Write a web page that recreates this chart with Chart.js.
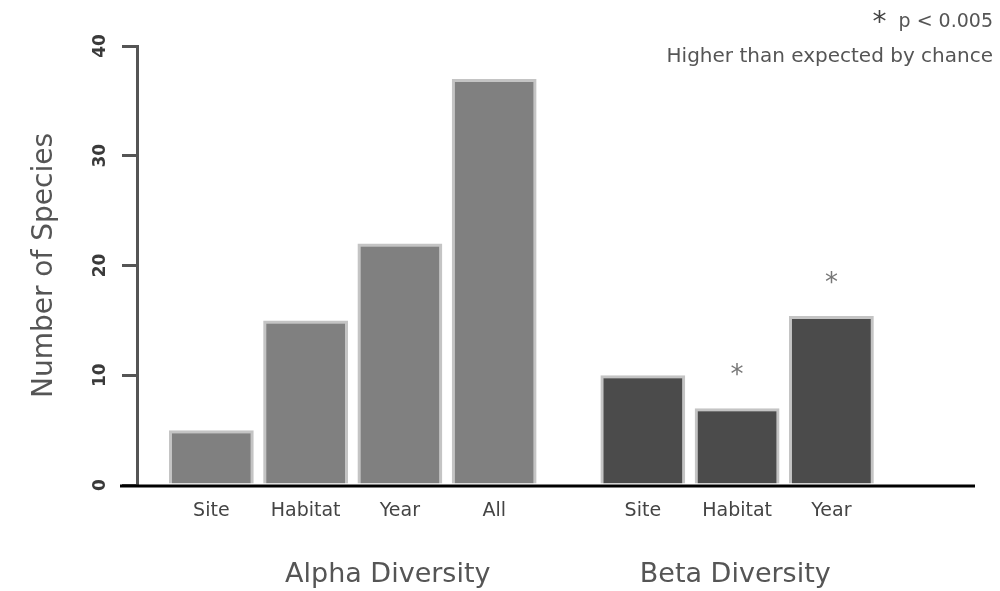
<!DOCTYPE html>
<html>
<head>
  <title>Number of Species</title>
  <meta charset="utf-8">
  <style type="text/css">
    html, body {
      margin: 0;
      padding: 0;
      background: #fff;
    }
    #wrap {
      position: relative;
      width: 1000px;
      height: 591px;
    }
  </style>
  <script src="https://cdn.jsdelivr.net/npm/chart.js@4.4.1/dist/chart.umd.min.js"></script>
</head>
<body>
  <div id="wrap"><canvas id="graph"></canvas></div>

  <script>
    // data
    var GROUPS = ['Alpha Diversity', 'Beta Diversity'];
    var MEASURES = ['Site', 'Habitat', 'Year', 'All'];
    var ALPHA = [5, 15, 22, 37];
    var BETA = [10, 7, 15.4, null];
    var BETA_SIGNIFICANT = [false, true, true, false];
    var Y_TICKS = [0, 10, 20, 30, 40];
    var NOTE_MARK = '*';
    var NOTE_P = 'p < 0.005';
    var NOTE_TEXT = 'Higher than expected by chance';

    var FILL = ['#808080', '#4b4b4b'];
    var FONT = '"DejaVu Sans", Verdana, sans-serif';
    // group captions sit a little off the group centre in the original
    var GROUP_SHIFT = [35, -49];

    // one dataset per measure, one value per group
    var datasets = MEASURES.map(function(m, i) {
      return {
        label: m,
        data: [ALPHA[i], BETA[i]],
        backgroundColor: FILL,
        borderColor: '#c4c4c4',
        borderWidth: 3,
        borderSkipped: 'bottom',
        categoryPercentage: 0.874,
        barPercentage: 0.9
      };
    });

    // draws rotated y labels, bar labels, stars, axis line, note
    var decorations = {
      id: 'decorations',
      afterDraw: function(chart) {
        var ctx = chart.ctx
          , area = chart.chartArea
          , x = chart.scales.x
          , y = chart.scales.y;

        ctx.save();

        // x axis line
        ctx.strokeStyle = '#000';
        ctx.lineWidth = 3;
        ctx.beginPath();
        ctx.moveTo(120, area.bottom + 1);
        ctx.lineTo(975, area.bottom + 1);
        ctx.stroke();

        // y tick labels, rotated
        ctx.fillStyle = '#3a3a3a';
        ctx.font = 'bold 17px ' + FONT;
        ctx.textAlign = 'center';
        ctx.textBaseline = 'middle';
        Y_TICKS.forEach(function(v) {
          ctx.save();
          ctx.translate(101, y.getPixelForValue(v));
          ctx.rotate(-Math.PI / 2);
          ctx.fillText(String(v), 0, 0);
          ctx.restore();
        });

        // group captions
        ctx.fillStyle = '#555';
        ctx.font = '27px ' + FONT;
        GROUPS.forEach(function(g, i) {
          ctx.fillText(g, x.getPixelForValue(i) + GROUP_SHIFT[i], area.bottom + 90);
        });

        // measure labels under each bar, stars above significant beta bars
        chart.data.datasets.forEach(function(ds, i) {
          var meta = chart.getDatasetMeta(i);
          meta.data.forEach(function(bar, g) {
            if (ds.data[g] == null) return;
            ctx.fillStyle = '#444';
            ctx.font = '19px ' + FONT;
            ctx.textBaseline = 'middle';
            ctx.fillText(MEASURES[i], bar.x, area.bottom + 26);
            if (g == 1 && BETA_SIGNIFICANT[i]) {
              ctx.fillStyle = '#777';
              ctx.font = '26px ' + FONT;
              ctx.fillText('*', bar.x, bar.y - 32);
            }
          });
        });

        // note, top right
        ctx.fillStyle = '#555';
        ctx.textAlign = 'right';
        ctx.textBaseline = 'middle';
        ctx.font = '19px ' + FONT;
        ctx.fillText(NOTE_P, 993, 22);
        var pw = ctx.measureText(NOTE_P).width;
        ctx.font = '28px ' + FONT;
        ctx.fillStyle = '#444';
        ctx.fillText(NOTE_MARK, 993 - pw - 12, 24);
        ctx.fillStyle = '#555';
        ctx.font = '20px ' + FONT;
        ctx.fillText(NOTE_TEXT, 993, 57);

        ctx.restore();
      }
    };

    var chart = new Chart(document.getElementById('graph'), {
      type: 'bar',
      data: {
        labels: GROUPS,
        datasets: datasets
      },
      plugins: [decorations],
      options: {
        responsive: true,
        maintainAspectRatio: false,
        animation: false,
        layout: {
          padding: { top: 46, right: 0, bottom: 0, left: 0 }
        },
        plugins: {
          legend: { display: false },
          tooltip: { enabled: false }
        },
        scales: {
          x: {
            grid: { display: false, drawTicks: false },
            border: { display: false },
            ticks: { display: false },
            afterFit: function(scale) {
              scale.height = 106;
            }
          },
          y: {
            min: 0,
            max: 40,
            ticks: {
              stepSize: 10,
              display: false
            },
            grid: {
              drawOnChartArea: false,
              drawTicks: true,
              tickLength: 15,
              color: '#555',
              lineWidth: 3
            },
            border: {
              display: true,
              color: '#555',
              width: 3
            },
            title: {
              display: true,
              text: 'Number of Species',
              color: '#555',
              padding: { top: 28, bottom: 0 },
              font: { family: FONT, size: 28 }
            },
            afterFit: function(scale) {
              scale.width = 137;
            }
          }
        }
      }
    });
  </script>
</body>
</html>
